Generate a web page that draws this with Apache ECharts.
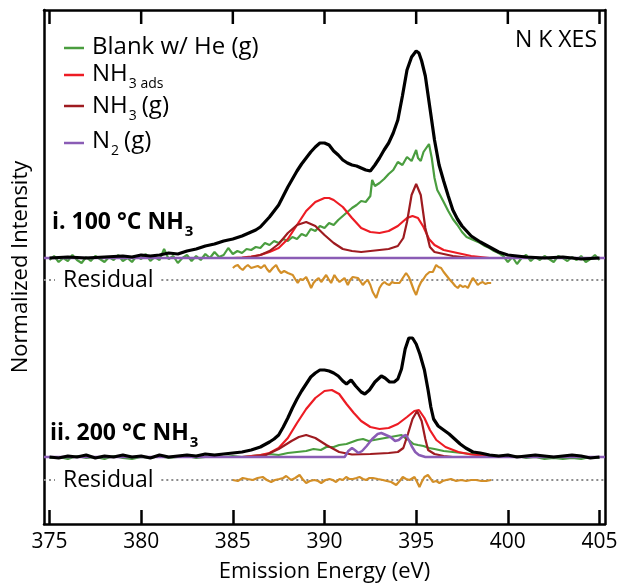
<!DOCTYPE html>
<html lang="en">
<head>
    <meta http-equiv="Content-Type" content="text/html; charset=UTF-8">
    <title>N K XES</title>
    <script type="text/javascript" src="https://cdn.jsdelivr.net/npm/echarts@6/dist/echarts.min.js"></script>
</head>
<body style="margin:0;width:622px;height:583px;background:#fff">
<div id="main" style="width:622px;height:583px"></div>
<script type="text/javascript">
    // x ticks (eV)
    var xTicks = [375, 380, 385, 390, 395, 400, 405];

    // vertical offsets of each trace (arb. units)
    var offsetI = 199, offsetII = 0, offsetResI = 177, offsetResII = -23;

    // ---- i. 100 C NH3 ----
    var blackI = [[375,0],[376,1],[377,0],[378,1],[379,2],[379.5,1],[380,3],[380.5,2],[381,3],[381.5,5],[382,4],[382.5,7],[383,9],[383.5,12],[384,14],[384.5,17],[385,19],[385.5,22],[386,26],[386.25,28],[386.5,31],[386.75,36],[387,41],[387.25,47],[387.5,53],[387.75,62],[388,71],[388.25,79],[388.5,87],[388.75,94],[389,100],[389.25,106],[389.5,111],[389.75,115],[390,115],[390.25,113],[390.5,107],[390.75,103],[391,98],[391.25,95],[391.5,93],[391.75,92],[392,90],[392.25,88],[392.5,87],[392.75,93],[393,100],[393.25,108],[393.5,115],[393.75,125],[394,138],[394.25,162],[394.5,188],[394.75,201],[395,207],[395.15,205],[395.3,197],[395.5,182],[395.75,150],[396,118],[396.25,93],[396.5,77],[396.75,62],[397,48],[397.25,39],[397.5,32],[397.75,27],[398,22],[398.5,16],[399,11],[399.5,6],[400,3],[400.5,2],[401,1],[402,0],[403,1],[404,-1],[405,0]];
    var greenI = [[375,-2],[375.25,2],[375.5,-4],[375.75,0],[376,-3],[376.25,3],[376.5,-2],[376.75,-5],[377,1],[377.25,-3],[377.5,2],[377.75,-1],[378,-4],[378.25,1],[378.5,-2],[378.75,3],[379,-3],[379.25,0],[379.5,-4],[379.75,2],[380,-1],[380.25,4],[380.5,-3],[380.75,1],[381,-2],[381.25,9],[381.5,-1],[381.75,2],[382,-5],[382.25,0],[382.5,3],[382.75,-3],[383,2],[383.25,-2],[383.5,4],[383.75,0],[384,6],[384.25,1],[384.5,3],[384.75,10],[385,4],[385.25,7],[385.5,5],[385.75,9],[386,8],[386.25,11],[386.5,10],[386.75,15],[387,13],[387.25,17],[387.5,15],[387.75,19],[388,17],[388.25,21],[388.5,19],[388.75,24],[389,22],[389.25,29],[389.5,27],[389.75,32],[390,30],[390.25,35],[390.5,33],[390.75,38],[391,42],[391.25,46],[391.5,50],[391.75,53],[392,57],[392.25,56],[392.5,62],[392.6,78],[392.75,72],[393,75],[393.25,79],[393.5,84],[393.75,88],[394,96],[394.25,93],[394.5,101],[394.75,97],[395,108],[395.1,100],[395.25,97],[395.4,106],[395.55,110],[395.7,114],[395.85,100],[396,80],[396.15,68],[396.3,63],[396.5,56],[396.75,47],[397,39],[397.25,33],[397.5,26],[397.75,21],[398,19],[398.25,17],[398.5,15],[398.75,12],[399,10],[399.25,7],[399.5,5],[399.75,2],[400,-4],[400.25,1],[400.5,-6],[400.75,0],[401,3],[401.25,-3],[401.5,1],[401.75,-2],[402,2],[402.25,-1],[402.5,-4],[402.75,2],[403,0],[403.25,-3],[403.5,1],[403.75,-2],[404,2],[404.25,-4],[404.5,-1],[404.75,3],[405,-2]];
    var redI = [[384,0],[385,0],[385.5,0.5],[386,1.5],[386.5,3],[387,6],[387.5,10],[388,19],[388.5,33],[389,47],[389.5,56],[390,60],[390.25,60],[390.5,58],[391,51],[391.5,40],[392,30],[392.5,26],[393,25],[393.5,27],[394,32],[394.5,40],[394.8,42],[395.1,40],[395.4,31],[395.7,19],[396,13],[396.5,8],[397,6],[397.5,4],[398,2],[398.5,1],[399,0],[400,0]];
    var darkRedI = [[385,0],[385.5,0],[386,1],[386.5,3],[387,7],[387.5,14],[388,25],[388.5,33],[389,36],[389.5,32],[390,23],[390.5,15],[391,9],[391.5,7],[392,6],[392.5,7],[393,8],[393.5,9],[394,12],[394.3,20],[394.5,36],[394.75,63],[395,74],[395.25,63],[395.5,30],[395.75,11],[396,6],[396.5,4],[397,2],[397.5,1],[398,0],[399,0]];
    var purpleI = [[374.7,0],[405.3,0]];
    var residualI = [[385,12],[385.13,14],[385.27,15],[385.4,12],[385.54,10],[385.68,13],[385.82,15],[386,12],[386.18,13],[386.36,14],[386.54,12],[386.73,15],[386.86,11],[387,8],[387.18,12],[387.36,15],[387.5,10],[387.63,7],[387.8,9],[388,7],[388.27,5],[388.4,1],[388.54,-3],[388.68,1],[388.82,0],[389,3],[389.13,-2],[389.27,-8],[389.4,-3],[389.54,0],[389.68,2],[389.82,-2],[390.09,5],[390.22,1],[390.36,-3],[390.54,5],[390.68,1],[390.82,-2],[391.09,2],[391.27,-5],[391.4,0],[391.54,3],[391.82,2],[391.95,-1],[392.09,-5],[392.22,-2],[392.36,0],[392.5,-5],[392.63,-12],[392.82,-18],[393,-8],[393.14,-4],[393.27,-2],[393.4,-4],[393.54,-5],[393.68,-2],[393.82,-3],[394.09,-3],[394.27,2],[394.45,7],[394.6,3],[394.73,-3],[394.87,-10],[395,-15],[395.14,-7],[395.27,-2],[395.4,1],[395.54,5],[395.73,8],[395.91,8],[396.09,15],[396.22,13],[396.36,12],[396.5,8],[396.63,5],[396.8,1],[397,-3],[397.13,-6],[397.27,-8],[397.4,-5],[397.54,-7],[397.68,-6],[397.82,-8],[397.95,-3],[398.09,2],[398.22,-1],[398.36,-5],[398.5,-3],[398.63,-2],[398.77,-4],[398.91,-3],[399.09,-3]];

    // ---- ii. 200 C NH3 ----
    var blackII = [[375,0],[375.5,-1],[376,1],[376.5,0],[377,2],[377.5,-1],[378,1],[378.5,0],[379,2],[379.5,0],[380,1],[380.5,-1],[381,2],[381.5,0],[382,1],[382.5,2],[383,1],[383.5,3],[384,2],[384.5,3],[385,4],[385.5,5],[386,7],[386.5,10],[387,15],[387.25,18],[387.5,22],[387.75,30],[388,39],[388.25,49],[388.5,58],[388.75,66],[389,73],[389.25,80],[389.5,84],[389.75,87],[390,87],[390.25,86],[390.5,84],[390.75,81],[391,76],[391.2,73],[391.45,77],[391.7,71],[392,65],[392.2,63],[392.45,67],[392.75,75],[393.1,81],[393.3,79],[393.55,75],[393.8,75],[394,78],[394.2,88],[394.4,108],[394.6,119],[394.8,119],[395,113],[395.2,103],[395.45,87],[395.65,67],[395.8,50],[395.95,38],[396.2,31],[396.5,27],[396.8,23],[397.1,18],[397.4,13],[397.7,9],[398.1,5],[398.5,4],[399,2],[399.5,1],[400,2],[400.5,0],[401,1],[401.5,2],[402,1],[402.5,0],[403,1],[403.5,2],[404,1],[404.5,-1],[405,0]];
    var greenII = [[375,-1],[375.5,0],[376,-2],[376.5,1],[377,-1],[377.5,0],[378,-2],[378.5,1],[379,-1],[379.5,-2],[380,0],[380.5,-1],[381,1],[381.5,-1],[382,0],[382.5,1],[383,-1],[383.5,0],[384,1],[384.5,0],[385,1],[385.5,0],[386,1],[386.5,2],[387,3],[387.5,2],[388,4],[388.5,5],[389,6],[389.4,8],[389.8,7],[390.1,10],[390.5,10],[390.8,12],[391.2,13],[391.5,15],[391.8,17],[392.1,18],[392.4,16],[392.7,17],[393,18],[393.3,19],[393.6,20],[393.9,21],[394.2,22],[394.4,19],[394.6,17],[394.85,13],[395.1,12],[395.4,11],[395.7,9],[396,8],[396.5,6],[397,5],[397.5,4],[398,3],[398.5,2],[399,2],[399.5,1],[400,0],[400.5,1],[401,-1],[401.5,0],[402,-2],[402.5,-1],[403,-2],[403.5,-1],[404,-2],[404.5,0],[405,-1]];
    var redII = [[385,0],[385.5,0],[386,1],[386.5,2],[387,4],[387.5,9],[388,19],[388.5,34],[389,48],[389.5,59],[390,66],[390.4,67],[390.8,63],[391.2,53],[391.6,44],[392,36],[392.5,30],[393,28],[393.5,29],[394,33],[394.5,40],[394.9,46],[395.15,47],[395.45,39],[395.75,27],[396.1,17],[396.6,10],[397.3,5],[398,2.5],[399,1],[400,0.5],[401,0]];
    var darkRedII = [[385.5,0],[386,0],[386.8,2],[387.5,8],[388.2,16],[388.6,20],[389,22],[389.5,19],[390.1,12],[390.8,5],[391.5,2.5],[392.5,3],[393.5,4],[394,5],[394.3,9],[394.55,23],[394.8,38],[395.05,46],[395.3,36],[395.5,18],[395.65,7],[396,3],[396.5,1],[397,0],[398,0]];
    var purpleII = [[374.7,0],[391.1,0],[391.3,6],[391.5,9],[391.65,7],[391.85,4],[392.05,6],[392.3,11],[392.6,18],[392.9,23],[393.1,24],[393.35,22],[393.6,20],[393.85,16],[394.05,17],[394.3,21],[394.45,22],[394.6,17],[394.75,11],[394.95,5],[395.15,2],[395.5,0],[405.3,0]];
    var residualII = [[385,0],[385.27,-1],[385.54,2],[385.8,1],[386.09,0],[386.35,2],[386.63,3],[386.85,0],[387.09,-2],[387.3,0],[387.54,1],[387.75,2],[387.91,4],[388.18,0],[388.4,2],[388.64,5],[388.8,1],[389,-3],[389.2,-1],[389.45,0],[389.65,-1],[389.82,-3],[390.05,0],[390.27,1],[390.45,0],[390.63,-2],[390.82,1],[391,0],[391.18,3],[391.35,1],[391.55,1],[391.75,2],[391.91,3],[392.1,1],[392.27,0],[392.45,2],[392.64,2],[392.9,1],[393.18,0],[393.4,-1],[393.64,-2],[393.91,-5],[394.1,-1],[394.27,3],[394.45,1],[394.64,0],[394.91,3],[395.05,-2],[395.18,-7],[395.3,-2],[395.45,3],[395.64,5],[395.8,1],[395.91,-2],[396.1,-1],[396.27,-3],[396.45,-1],[396.64,0],[396.9,1],[397.18,-1],[397.45,0],[397.73,-1],[398,0],[398.27,0],[398.55,-1],[398.82,-1],[399.09,0]];

    // residual zero lines (broken where the "Residual" label sits)
    var residualZeroSegments = [[374.7, 375.3], [381.1, 405.3]];

    // axis extent: a little wider than the 375-405 ticks
    var X_MIN = 374.7, X_MAX = 405.3, Y_MIN = -67, Y_MAX = 447;
    var TOP_TICK_LEN = 14;

    var FONT = "'Open Sans', 'Noto Sans', sans-serif";
    var C_GREEN = '#4a9d3f', C_RED = '#ed1c24', C_DRED = '#9e1b20', C_PURPLE = '#8a5cb5', C_RES = '#d38f28';

    function shift(data, off) {
        return data.map(function (p) { return [p[0], p[1] + off]; });
    }

    function lineSeries(name, data, color, width, z) {
        return {
            name: name, type: 'line', data: data, showSymbol: false, symbol: 'none',
            lineStyle: { color: color, width: width }, z: z, silent: true
        };
    }

    var series = [];
    [[offsetI, greenI, redI, darkRedI, purpleI, blackI], [offsetII, greenII, redII, darkRedII, purpleII, blackII]].forEach(function (p) {
        series.push(lineSeries('Blank w/ He (g)', shift(p[1], p[0]), C_GREEN, 2.2, 2));
        series.push(lineSeries('NH3 ads', shift(p[2], p[0]), C_RED, 2.2, 3));
        series.push(lineSeries('NH3 (g)', shift(p[3], p[0]), C_DRED, 2.2, 4));
        series.push(lineSeries('N2 (g)', shift(p[4], p[0]), C_PURPLE, 2.5, 5));
        series.push(lineSeries('Total', shift(p[5], p[0]), '#000', 3.2, 6));
    });
    [offsetResI, offsetResII].forEach(function (off) {
        residualZeroSegments.forEach(function (s) {
            var l = lineSeries('zero', [[s[0], off], [s[1], off]], '#8c8c8c', 2, 1);
            l.lineStyle.type = [2, 3];
            series.push(l);
        });
    });
    series.push(lineSeries('Residual', shift(residualI, offsetResI), C_RES, 2.2, 7));
    series.push(lineSeries('Residual', shift(residualII, offsetResII), C_RES, 2.2, 7));

    // measure text so subscripts follow their base text
    var ctx = document.createElement('canvas').getContext('2d');
    function textW(text, size, bold) {
        ctx.font = (bold ? 'bold ' : '') + size + 'px ' + FONT;
        return ctx.measureText(text).width;
    }

    function txt(x, y, text, size, opt) {
        opt = opt || {};
        return {
            type: 'text', x: x, y: y, z: 100,
            style: {
                text: text, fontSize: size, fontFamily: FONT, fontWeight: opt.bold ? 'bold' : 'normal',
                fill: '#000', align: opt.align || 'left', verticalAlign: 'middle'
            }
        };
    }
    // base text + subscript (+ optional tail)
    function subTxt(x, y, base, sub, tail, size, subSize, bold) {
        var out = [txt(x, y, base, size, { bold: bold })];
        var sx = x + textW(base, size, bold) + 1;
        out.push(txt(sx, y + 10, sub, subSize, { bold: bold }));
        if (tail) {
            out.push(txt(sx + textW(sub, subSize, bold) + 5, y, tail, size, { bold: bold }));
        }
        return out;
    }
    function legLine(y, color) {
        return { type: 'line', z: 100, shape: { x1: 64, y1: y, x2: 84, y2: y }, style: { stroke: color, lineWidth: 2.5 } };
    }

    var graphic = [].concat(
        [legLine(48, C_GREEN), txt(92, 47, 'Blank w/ He (g)', 24)],
        [legLine(75, C_RED)], subTxt(92, 74, 'NH', '3 ads', null, 24, 14, false),
        [legLine(106, C_DRED)], subTxt(92, 106, 'NH', '3', '(g)', 24, 14, false),
        [legLine(143, C_PURPLE)], subTxt(92, 141, 'N', '2', '(g)', 24, 14, false),
        [txt(597, 40, 'N K XES', 23, { align: 'right' })],
        subTxt(52, 222, 'i. 100 °C NH', '3', null, 23, 15, true),
        subTxt(50, 433, 'ii. 200 °C NH', '3', null, 23, 15, true),
        [txt(63, 280, 'Residual', 23), txt(63, 480, 'Residual', 23)]
    );

    var myChart = echarts.init(document.getElementById('main'));
    myChart.setOption({
        animation: false,
        backgroundColor: '#fff',
        grid: { left: 44, right: 17, top: 10, bottom: 59, outerBoundsMode: 'none', containLabel: false },
        xAxis: [{
            type: 'value', min: X_MIN, max: X_MAX, position: 'bottom',
            name: 'Emission Energy (eV)', nameLocation: 'middle', nameGap: 37,
            nameTextStyle: { fontSize: 22, fontFamily: FONT, color: '#000' },
            axisLine: { onZero: false, lineStyle: { color: '#000', width: 2.5 } },
            axisTick: { inside: true, length: 14, lineStyle: { color: '#000', width: 2.5 }, customValues: xTicks },
            axisLabel: { fontSize: 21, fontFamily: FONT, color: '#000', margin: 8, customValues: xTicks },
            splitLine: { show: false }
        }, {
            type: 'value', min: X_MIN, max: X_MAX, position: 'top',
            axisLine: { onZero: false, lineStyle: { color: '#000', width: 2.5 } },
            axisTick: { show: false }, axisLabel: { show: false }, splitLine: { show: false }
        }],
        yAxis: [{
            type: 'value', min: Y_MIN, max: Y_MAX, position: 'left',
            name: 'Normalized Intensity', nameLocation: 'middle', nameGap: 12,
            nameTextStyle: { fontSize: 22, fontFamily: FONT, color: '#000' },
            axisLine: { show: true, onZero: false, lineStyle: { color: '#000', width: 2.5 } },
            axisTick: { show: false }, axisLabel: { show: false }, splitLine: { show: false }
        }, {
            type: 'value', min: Y_MIN, max: Y_MAX, position: 'right',
            axisLine: { show: true, onZero: false, lineStyle: { color: '#000', width: 2.5 } },
            axisTick: { show: false }, axisLabel: { show: false }, splitLine: { show: false }
        }],
        graphic: graphic,
        series: series
    });

    // inward ticks on the top frame edge, placed through the axis scale
    var topTicks = xTicks.map(function (t) {
        var p0 = myChart.convertToPixel({ xAxisIndex: 0, yAxisIndex: 0 }, [t, Y_MAX]);
        var p1 = myChart.convertToPixel({ xAxisIndex: 0, yAxisIndex: 0 }, [t, Y_MAX - TOP_TICK_LEN]);
        return {
            type: 'line', z: 120,
            shape: { x1: p0[0], y1: p0[1], x2: p1[0], y2: p1[1] },
            style: { stroke: '#000', lineWidth: 2.5 }
        };
    });
    myChart.setOption({ graphic: graphic.concat(topTicks) });
</script>
</body>
</html>
